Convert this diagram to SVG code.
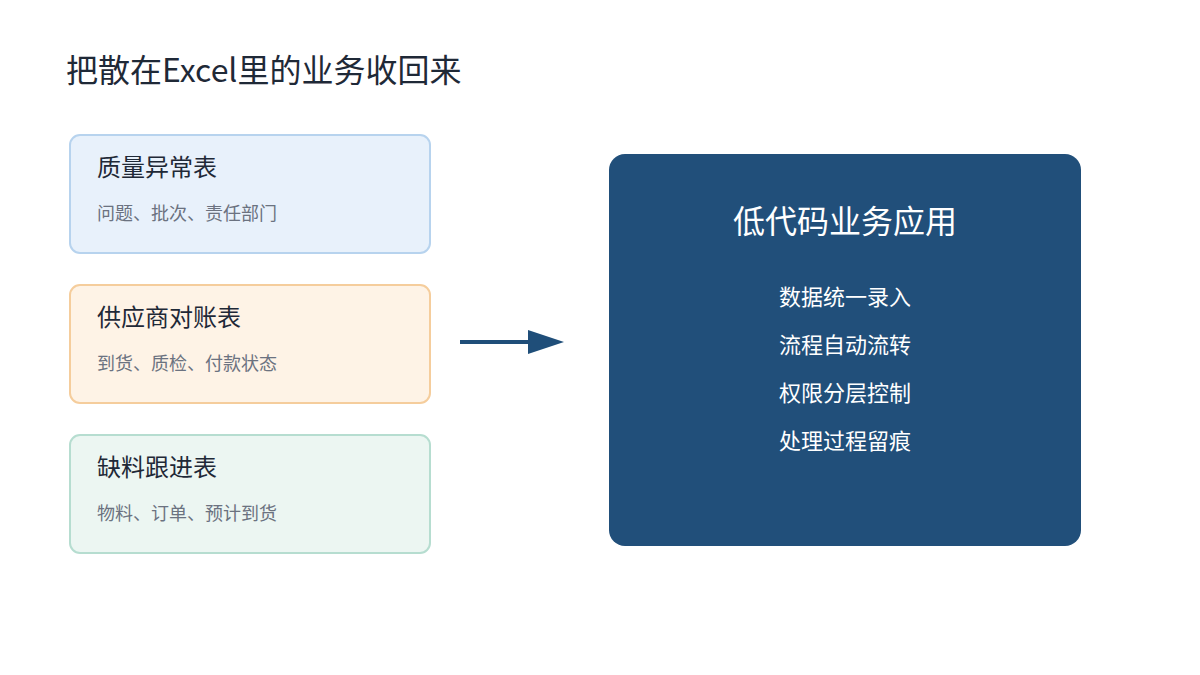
<svg xmlns="http://www.w3.org/2000/svg" width="1200" height="675" viewBox="0 0 1200 675">
<style>
text{font-family:"Noto Sans CJK SC","Liberation Sans",sans-serif}
.h{font-size:24px;fill:#1f2937}
.s{font-size:18px;fill:#6b7280}
.w{fill:#fff;text-anchor:middle}
</style>
<defs><marker id="a" markerWidth="10" markerHeight="8" refX="0" refY="4" orient="auto" markerUnits="userSpaceOnUse" viewBox="0 0 10 8"><path d="M0 0L10 4L0 8Z" fill="#1f4e79"/></marker></defs>
<rect width="1200" height="675" fill="#fff"/>
<text x="66" y="82" style="font-size:32px;fill:#1f2937">把散在Excel里的业务收回来</text>
<g id="n1"><rect x="70" y="135" width="360" height="118" rx="10" fill="#e8f1fb" stroke="#b7d3ee" stroke-width="2"/><text class="h" x="97" y="176">质量异常表</text><text class="s" x="97" y="220">问题、批次、责任部门</text></g>
<g id="n2"><rect x="70" y="285" width="360" height="118" rx="10" fill="#fef3e6" stroke="#f5cd9c" stroke-width="2"/><text class="h" x="97" y="326">供应商对账表</text><text class="s" x="97" y="370">到货、质检、付款状态</text></g>
<g id="n3"><rect x="70" y="435" width="360" height="118" rx="10" fill="#ecf6f2" stroke="#b6ddd0" stroke-width="2"/><text class="h" x="97" y="476">缺料跟进表</text><text class="s" x="97" y="520">物料、订单、预计到货</text></g>
<g id="connectors"><line x1="460" y1="342" x2="530" y2="342" stroke="#1f4e79" stroke-width="4" marker-end="url(#a)" style="stroke-linecap:butt"/><path d="M528 330L564 342L528 354Z" fill="#1f4e79"/></g>
<g id="n4"><rect x="609" y="154" width="472" height="392" rx="16" fill="#214f7a"/>
<text class="w" x="845" y="233" style="font-size:32px">低代码业务应用</text>
<text class="w" x="845" y="305" style="font-size:22px">数据统一录入</text>
<text class="w" x="845" y="353" style="font-size:22px">流程自动流转</text>
<text class="w" x="845" y="401" style="font-size:22px">权限分层控制</text>
<text class="w" x="845" y="449" style="font-size:22px">处理过程留痕</text></g>
</svg>
